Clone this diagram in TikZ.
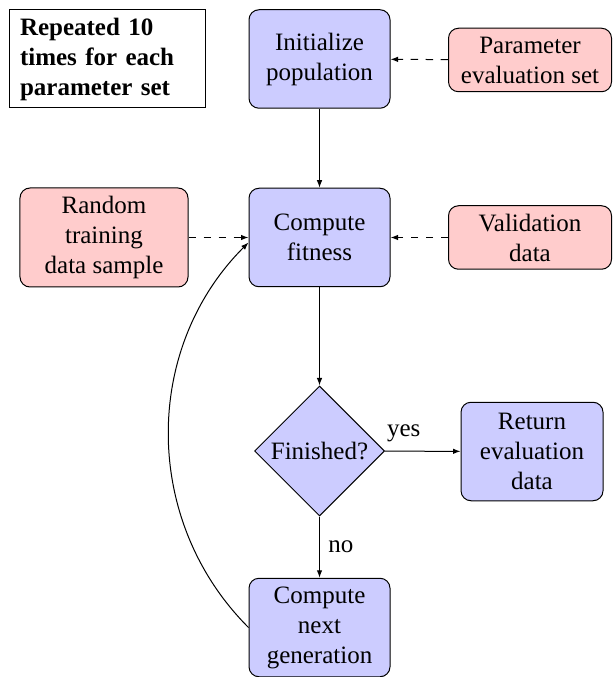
\documentclass[tikz,border=0pt]{standalone}
\usepackage{fontspec}
\setmainfont{Liberation Serif}
\usetikzlibrary{shapes.geometric,arrows.meta}
\begin{document}
\begin{tikzpicture}[x=0.4pt,y=-0.4pt,
  proc/.style={draw, rounded corners=4pt, fill=blue!20, align=center, inner sep=2pt, minimum width=56.4pt, minimum height=39.4pt},
  datab/.style={draw, rounded corners=4pt, fill=red!20, align=center, inner sep=2pt, minimum width=65.2pt, minimum height=25.4pt},
  decision/.style={diamond, draw, fill=blue!20, aspect=1, inner sep=1pt, minimum width=52pt, minimum height=52pt},
  note/.style={draw, font=\bfseries, align=left, text width=70pt, inner xsep=4pt, inner ysep=2pt, minimum height=39.2pt},
  flow/.style={-{Latex[length=3pt,width=2.2pt]}},
  feed/.style={-{Latex[length=3pt,width=2.2pt]}, dashed}]
\useasboundingbox (0,0) rectangle (612,677);
\node[note] (rep) at (107.5,59) {Repeated 10\\times for each\\parameter set};
\node[proc] (init) at (319.5,59) {Initialize\\population};
\node[datab] (param) at (530,60) {Parameter\\evaluation set};
\node[proc] (fit) at (319.5,237.5) {Compute\\fitness};
\node[datab, minimum width=67.2pt, minimum height=39.6pt] (rand) at (104,237.5) {Random\\training\\data sample};
\node[datab] (val) at (530,237.5) {Validation\\data};
\node[decision] (fin) at (319.5,451) {Finished?};
\node[proc, minimum width=56.8pt] (ret) at (532,451.5) {Return\\evaluation\\data};
\node[proc] (next) at (319.5,627.5) {Compute\\next\\generation};
\draw[flow] (init) -- (fit);
\draw[flow] (fit) -- (fin);
\draw[flow] (fin) -- node[pos=0.25, above] {yes} (ret);
\draw[flow] (fin) -- node[midway, right] {no} (next);
\draw[feed] (param) -- (init);
\draw[feed] (rand) -- (fit);
\draw[feed] (val) -- (fit);
\draw[flow] (next.west) to[bend left=45] ([yshift=-2pt]fit.west);
\end{tikzpicture}
\end{document}
